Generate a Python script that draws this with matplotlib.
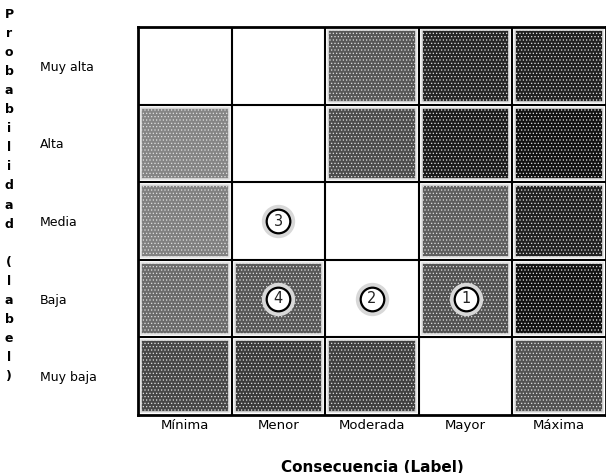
import matplotlib
matplotlib.use('Agg')
import matplotlib.pyplot as plt
from matplotlib.patches import Rectangle

plt.rcParams['font.family'] = ['DejaVu Sans']
plt.rcParams['hatch.linewidth'] = 0.5

# ejes de la matriz
consecuencia = ['Mínima', 'Menor', 'Moderada', 'Mayor', 'Máxima']
probabilidad = ['Muy alta', 'Alta', 'Media', 'Baja', 'Muy baja']  # de arriba a abajo
ylabel_txt = 'Probabilidad (label)'
xlabel_txt = 'Consecuencia (Label)'

# nivel de gris de cada celda (None = blanco), filas de arriba a abajo
gray = [
    [None, None, 0.34, 0.15, 0.13],
    [0.52, None, 0.30, 0.11, 0.07],
    [0.50, None, None, 0.37, 0.13],
    [0.42, 0.34, None, 0.32, 0.07],
    [0.28, 0.23, 0.25, None, 0.32],
]
# riesgos marcados: (numero, consecuencia, probabilidad)
riesgos = [(1, 'Mayor', 'Baja'), (2, 'Moderada', 'Baja'),
           (3, 'Menor', 'Media'), (4, 'Menor', 'Baja')]

W, H = 606, 473
fig = plt.figure(figsize=(W/100, H/100), dpi=100)
x0, x1, y0, y1 = 138, 606, 27, 415
ax = fig.add_axes([x0/W, 1-y1/H, (x1-x0)/W, (y1-y0)/H])
ax.set_xlim(0, 5)
ax.set_ylim(0, 5)

nrow = len(probabilidad)
dx = 3.0/((x1-x0)/5.0)
dy = 3.0/((y1-y0)/5.0)
for r, fila in enumerate(gray):
    for c, g in enumerate(fila):
        if g is None:
            continue
        yb = nrow-1-r
        ax.add_patch(Rectangle((c+dx, yb+dy), 1-2*dx, 1-2*dy,
                               facecolor=str(g), edgecolor='#e0e0e0',
                               hatch='.....', linewidth=1.2))

for k in range(1, 5):
    ax.axvline(k, color='black', lw=1.5)
    ax.axhline(k, color='black', lw=1.5)
for s in ax.spines.values():
    s.set_linewidth(2)

for num, cons, prob in riesgos:
    cx = consecuencia.index(cons)+0.5
    cy = nrow-1-probabilidad.index(prob)+0.5
    ax.plot(cx, cy, 'o', ms=21, mfc='white', mec='#d8d8d8', mew=3)
    ax.plot(cx, cy, 'o', ms=17, mfc='white', mec='black', mew=1.6)
    ax.text(cx, cy, str(num), ha='center', va='center', fontsize=10.5, color='#222222')

ax.set_xticks([i+0.5 for i in range(5)])
ax.set_xticklabels(consecuencia, fontsize=9.5)
ax.set_yticks([nrow-1-i+0.5 for i in range(nrow)])
ax.set_yticklabels(probabilidad, fontsize=9, ha='left')
ax.tick_params(axis='both', length=0)
ax.tick_params(axis='x', pad=3)
ax.tick_params(axis='y', pad=(x0-40)*0.72)

fig.text(372/W, 1-467/H, xlabel_txt, ha='center', va='center',
         fontsize=11, fontweight='bold')

# etiqueta vertical letra por letra
for i, ch in enumerate(ylabel_txt):
    if ch == ' ':
        continue
    fig.text(9/W, 1-(14+i*19.1)/H, ch, ha='center', va='center',
             fontsize=9, fontweight='bold')

fig.savefig('out.png', dpi=100)
